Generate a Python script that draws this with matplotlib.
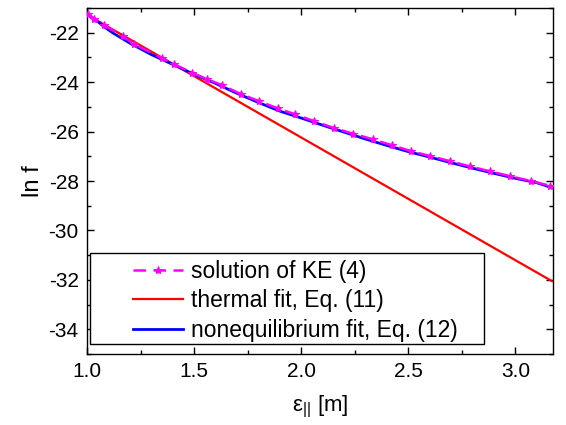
import matplotlib
matplotlib.use("Agg")
import matplotlib.pyplot as plt
from matplotlib.ticker import MultipleLocator, FormatStrFormatter
from matplotlib.patches import Rectangle

plt.rcParams['font.family'] = ['Liberation Sans', 'DejaVu Sans']
plt.rcParams['mathtext.fontset'] = 'custom'
plt.rcParams['mathtext.rm'] = 'Liberation Sans'
plt.rcParams['mathtext.it'] = 'Liberation Sans'
plt.rcParams['axes.unicode_minus'] = False

# solution of KE (4)
ke_x = [1.006, 1.034, 1.081, 1.169, 1.220, 1.351, 1.407, 1.488, 1.558, 1.628,
        1.721, 1.801, 1.891, 1.969, 2.058, 2.151, 2.241, 2.334, 2.423, 2.510,
        2.602, 2.692, 2.788, 2.883, 2.974, 3.072, 3.161]
ke_y = [-21.24, -21.43, -21.70, -22.15, -22.46, -23.03, -23.27, -23.61, -23.87, -24.11,
        -24.49, -24.76, -25.06, -25.29, -25.57, -25.85, -26.08, -26.31, -26.55, -26.78,
        -26.99, -27.19, -27.41, -27.61, -27.80, -28.00, -28.19]

# thermal fit, Eq. (11)
th_x = [1.0, 3.17]
th_y = [-21.27, -32.05]

# nonequilibrium fit, Eq. (12)
ne_x = [1.0, 1.04, 1.08, 1.12, 1.2, 1.3, 1.4, 1.5, 1.6, 1.7, 1.8, 1.9, 2.0,
        2.1, 2.2, 2.3, 2.4, 2.5, 2.6, 2.7, 2.8, 2.9, 3.0, 3.1, 3.16]
ne_y = [-21.26, -21.47, -21.76, -22.0, -22.42, -22.88, -23.28, -23.68, -24.05,
        -24.45, -24.82, -25.17, -25.45, -25.74, -26.02, -26.30, -26.56, -26.81,
        -27.03, -27.26, -27.48, -27.69, -27.89, -28.07, -28.24]

fig = plt.figure(figsize=(5.66, 4.25), dpi=100)
ax = fig.add_axes([0.1537, 0.167, 0.8233, 0.814])

ax.plot(th_x, th_y, color='#ff0000', lw=1.6, label='thermal fit, Eq. (11)', zorder=2)
ax.plot(ne_x, ne_y, color='#0000ff', lw=2.0, label='nonequilibrium fit, Eq. (12)', zorder=3)
ax.plot(ke_x, ke_y, color='#ff00ff', lw=1.8, ls=(0, (5, 3)), marker='*', ms=6,
        markeredgewidth=0.8, label='solution of KE (4)', zorder=4)

ax.set_xlim(1.0, 3.175)
ax.set_ylim(-35, -21)
ax.xaxis.set_major_locator(MultipleLocator(0.5))
ax.xaxis.set_minor_locator(MultipleLocator(0.25))
ax.yaxis.set_major_locator(MultipleLocator(2))
ax.yaxis.set_minor_locator(MultipleLocator(1))
ax.xaxis.set_major_formatter(FormatStrFormatter('%.1f'))

ax.tick_params(which='both', direction='in', top=True, right=True, labelsize=15, width=1.0)
ax.tick_params(which='major', length=5, pad=6)
ax.tick_params(which='minor', length=3)
for s in ax.spines.values():
    s.set_linewidth(1.0)

ax.set_xlabel(r'ε$_{||}$ [m]', fontsize=16, labelpad=9)
ax.set_ylabel('ln f', fontsize=17, labelpad=3)

handles, labels = ax.get_legend_handles_labels()
order = [2, 0, 1]
leg = ax.legend([handles[i] for i in order], [labels[i] for i in order],
                loc='upper left', bbox_to_anchor=(46 / 466, (354 - 260) / 346),
                fontsize=16.5, frameon=False,
                borderpad=0.0, handlelength=2.2, handletextpad=0.35, labelspacing=0.28,
                borderaxespad=0)
# legend box frame
ax.add_patch(Rectangle((3 / 466, (354 - 344) / 346), (484 - 90) / 466, (344 - 253) / 346,
                       transform=ax.transAxes, facecolor='white', edgecolor='black',
                       lw=1.0, zorder=5))
leg.set_zorder(6)

fig.savefig('out.png', dpi=100)
